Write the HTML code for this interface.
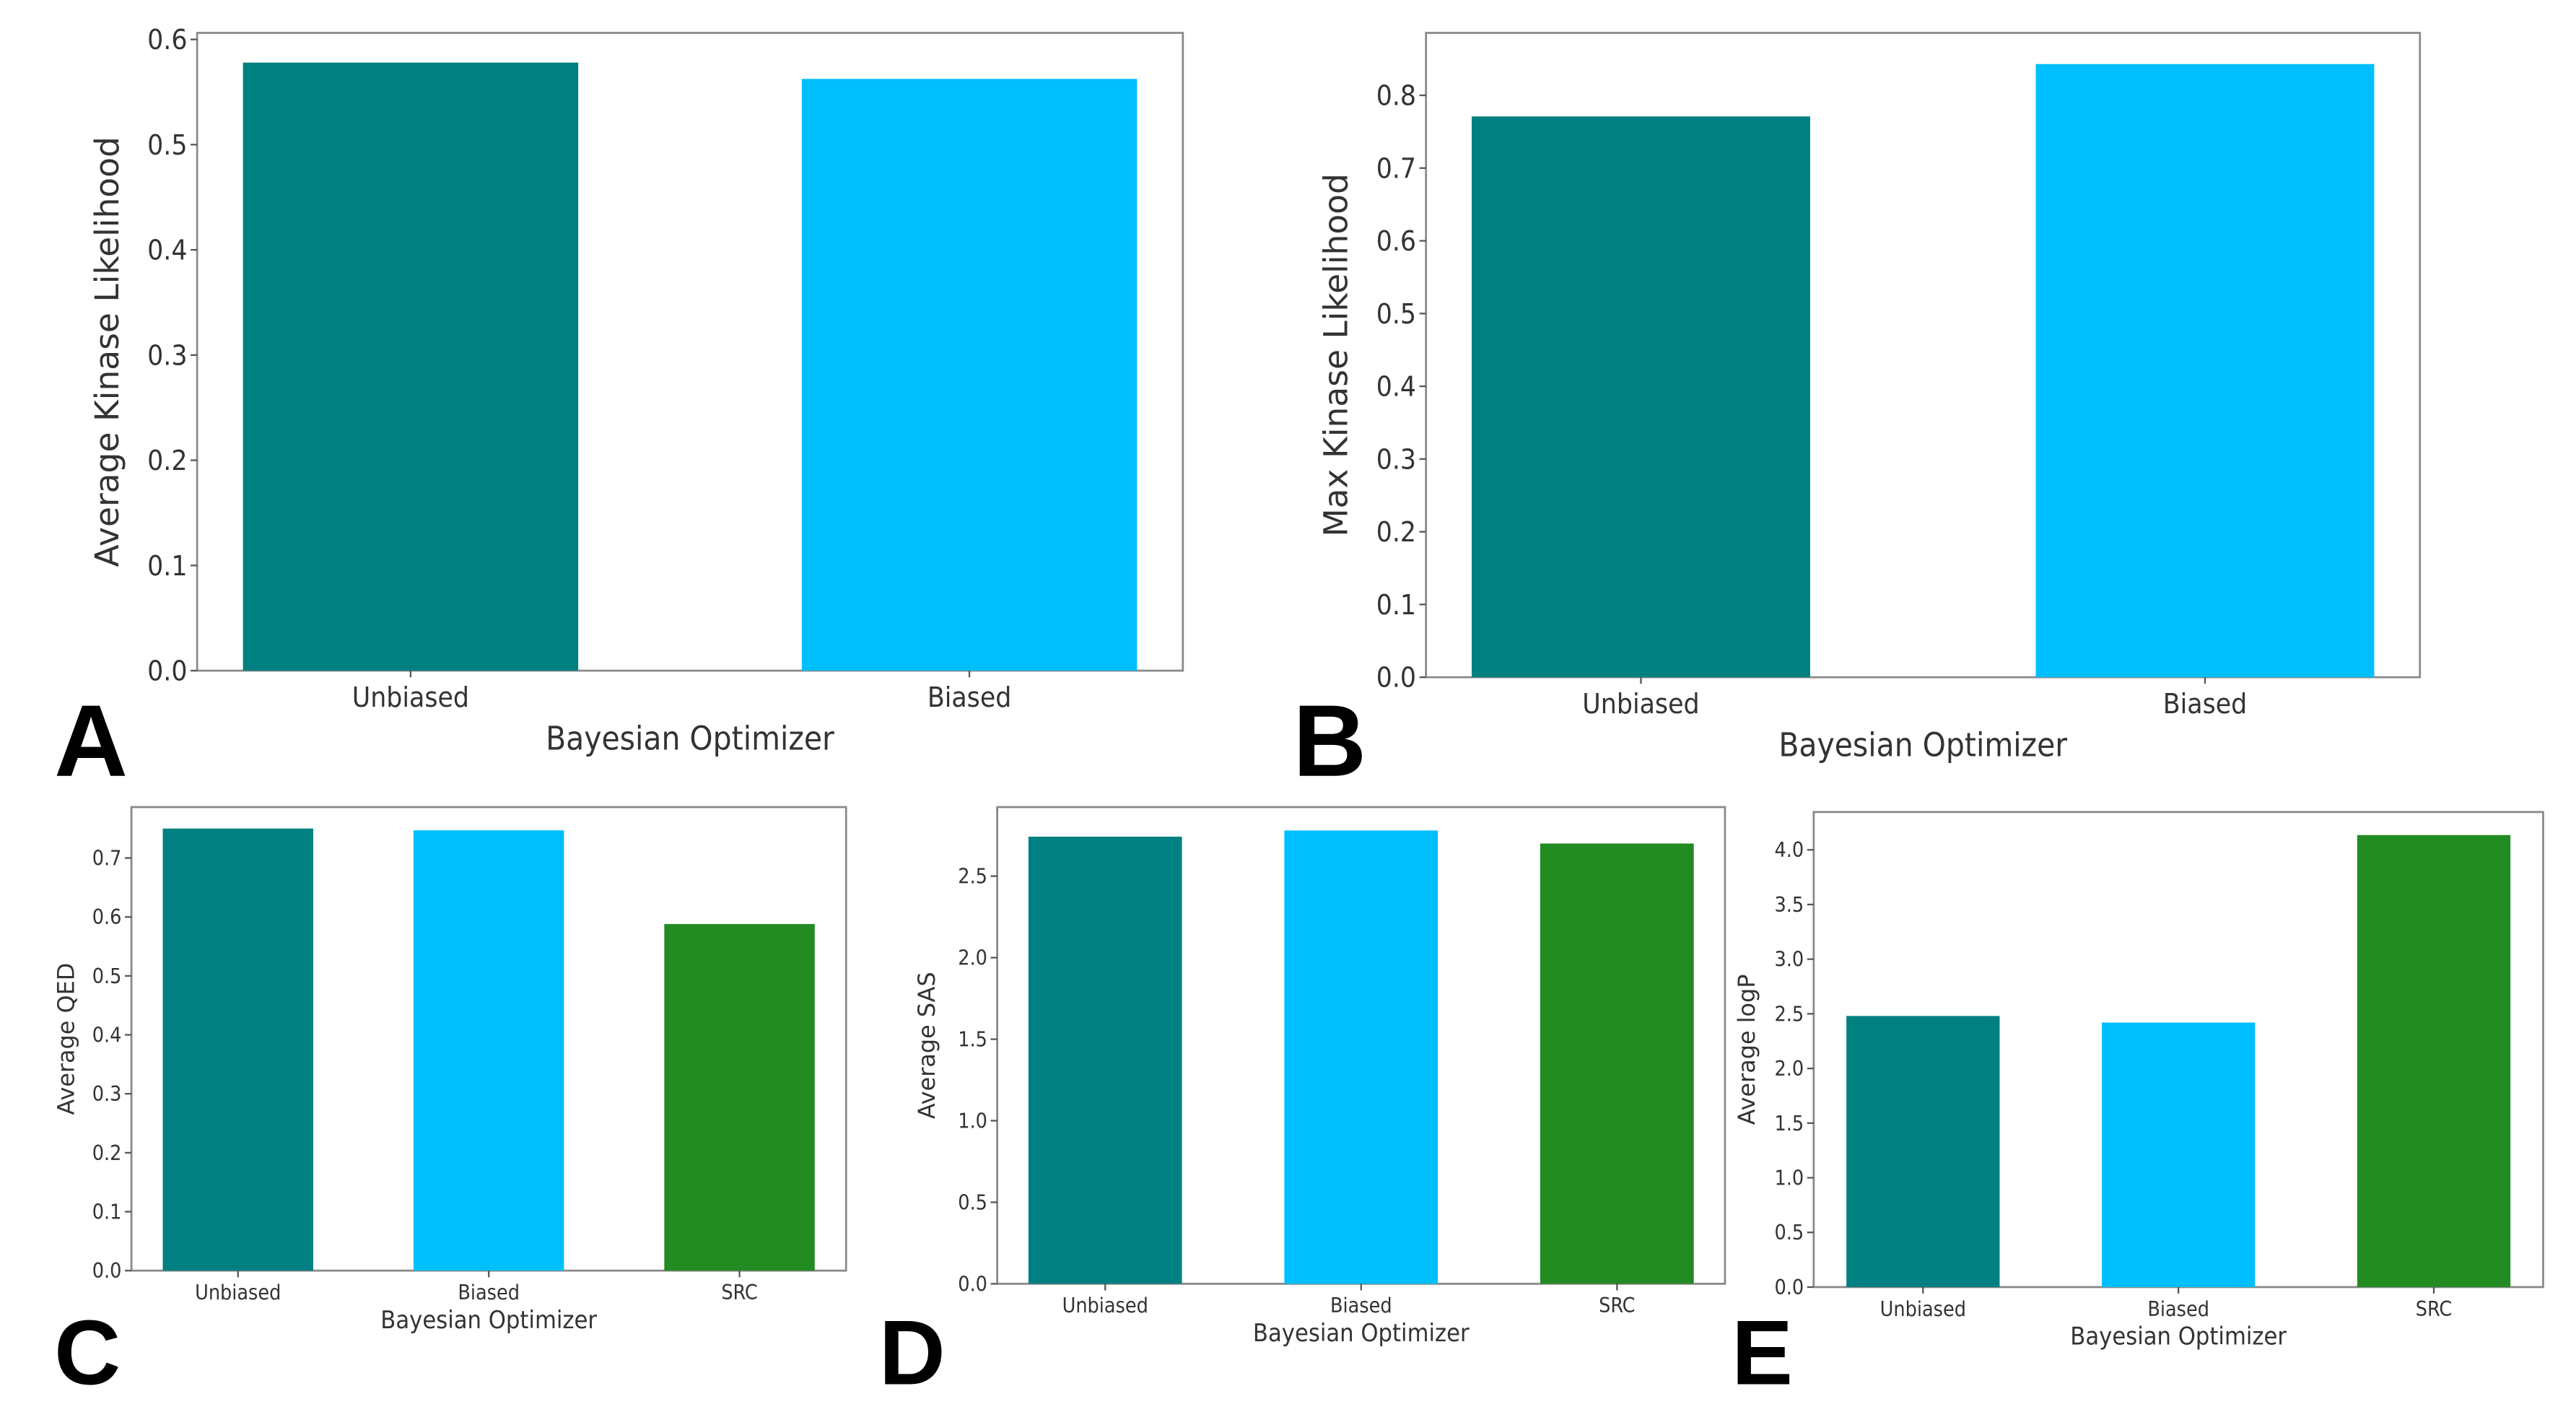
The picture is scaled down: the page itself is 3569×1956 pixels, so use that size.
<!DOCTYPE html>
<html><head><meta charset="utf-8">
<style>
html,body{margin:0;padding:0;background:#fff;}
svg{display:block;}
text{font-family:"DejaVu Sans Condensed","Liberation Sans Narrow","DejaVu Sans","Liberation Sans",sans-serif;fill:#333;}
.ylab{font-family:"DejaVu Sans","Liberation Sans",sans-serif;}
.letter{font-family:"Liberation Sans",sans-serif;font-weight:bold;fill:#000;}
</style></head>
<body>
<svg id="fig" width="3569" height="1956" viewBox="0 0 1568 859" preserveAspectRatio="none" xmlns="http://www.w3.org/2000/svg"></svg>
<script>
const catsAB = ["Unbiased","Biased"];
const catsCDE = ["Unbiased","Biased","SRC"];
const valsA = [0.578, 0.5625];
const valsB = [0.771, 0.843];
const valsC = [0.750, 0.747, 0.588];
const valsD = [2.742, 2.78, 2.70];
const valsE = [2.48, 2.42, 4.135];
const ticksA = ["0.0","0.1","0.2","0.3","0.4","0.5","0.6"];
const ticksB = ["0.0","0.1","0.2","0.3","0.4","0.5","0.6","0.7","0.8"];
const ticksC = ["0.0","0.1","0.2","0.3","0.4","0.5","0.6","0.7"];
const ticksD = ["0.0","0.5","1.0","1.5","2.0","2.5"];
const ticksE = ["0.0","0.5","1.0","1.5","2.0","2.5","3.0","3.5","4.0"];
const colors = ["#008080","#00bfff","#228b22"];

const NS="http://www.w3.org/2000/svg";
const svg=document.getElementById('fig');
function mk(tag,attrs,parent){const e=document.createElementNS(NS,tag);for(const k in attrs)e.setAttribute(k,attrs[k]);(parent||svg).appendChild(e);return e;}

function panel(cfg){
  const g=mk('g',{});
  
  
  const {x0,x1,y0,y1,ymax,cats,vals,ticks}=cfg;
  const ys=v=>y1-(v/ymax)*(y1-y0);
  const n=cats.length;
  const span=n-1+0.6+2*cfg.pad;
  const xs=i=>x0+((cfg.pad+0.3+i)/span)*(x1-x0);
  const bw=0.6/span*(x1-x0);
  const frame=mk('rect',{x:x0,y:y0,width:x1-x0,height:y1-y0,fill:'none',stroke:'#888','stroke-width':1.2},g);
  
  
  vals.forEach((v,i)=>{
    const r=mk('rect',{x:xs(i)-bw/2,y:ys(v),width:bw,height:y1-ys(v),fill:colors[i]},g);
    
    
    mk('line',{x1:xs(i),x2:xs(i),y1:y1,y2:y1+4,stroke:'#555','stroke-width':1},g);
    const t=mk('text',{x:xs(i),y:y1+cfg.tfs+5,'text-anchor':'middle','font-size':cfg.tfs},g);
    t.textContent=cats[i];
    
    
  });
  ticks.forEach(s=>{
    const v=parseFloat(s);const y=ys(v);
    mk('line',{x1:x0-4,x2:x0,y1:y,y2:y,stroke:'#555','stroke-width':1},g);
    const t=mk('text',{x:x0-6,y:y+cfg.tfs*0.35,'text-anchor':'end','font-size':cfg.tfs},g);
    t.textContent=s;
    
    
  });
  const xl=mk('text',{x:(x0+x1)/2,y:cfg.xly,'text-anchor':'middle','font-size':cfg.lfs},g);
  xl.textContent='Bayesian Optimizer';
  
  
  const yl=mk('text',{x:0,y:0,'text-anchor':'middle','font-size':cfg.yfs,class:'ylab',transform:`translate(${cfg.ylx},${(y0+y1)/2}) rotate(-90)`},g);
  yl.textContent=cfg.ytitle;
  
  
  const L=mk('text',{x:cfg.lx,y:cfg.ly,'font-size':cfg.lsz,class:'letter'},g);
  L.textContent=cfg.letter;
  
  
}

panel({name:'panel-a',x0:120,x1:720,y0:20,y1:408,ymax:(408-20)/640,pad:0.082,cats:catsAB,vals:valsA,ticks:ticksA,tfs:17,lfs:20,yfs:20,ylx:72,xly:456,ytitle:'Average Kinase Likelihood',letter:'A',lx:33,ly:472,lsz:62});
panel({name:'panel-b',x0:868,x1:1473,y0:20,y1:412,ymax:(412-20)/442.5,pad:0.081,cats:catsAB,vals:valsB,ticks:ticksB,tfs:17,lfs:20,yfs:20,ylx:820,xly:460,ytitle:'Max Kinase Likelihood',letter:'B',lx:787,ly:472,lsz:62});
panel({name:'panel-c',x0:80,x1:515,y0:491,y1:773,ymax:(773-491)/358.6,pad:0.125,cats:catsCDE,vals:valsC,ticks:ticksC,tfs:12.5,lfs:15,yfs:14,ylx:45,xly:808,ytitle:'Average QED',letter:'C',lx:33,ly:842,lsz:56});
panel({name:'panel-d',x0:607,x1:1050,y0:491,y1:781,ymax:(781-491)/99.2,pad:0.122,cats:catsCDE,vals:valsD,ticks:ticksD,tfs:12.5,lfs:15,yfs:14,ylx:569,xly:816,ytitle:'Average SAS',letter:'D',lx:535,ly:842,lsz:56});
panel({name:'panel-e',x0:1104,x1:1548,y0:494,y1:783,ymax:(783-494)/66.5,pad:0.128,cats:catsCDE,vals:valsE,ticks:ticksE,tfs:12.5,lfs:15,yfs:14,ylx:1068,xly:818,ytitle:'Average logP',letter:'E',lx:1054,ly:842,lsz:56});
</script>
</body></html>
